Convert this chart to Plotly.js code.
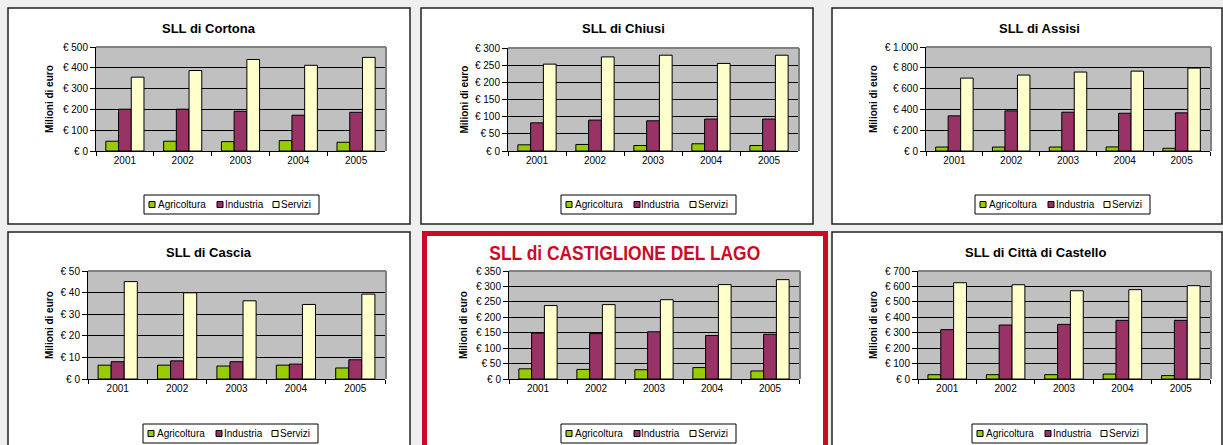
<!DOCTYPE html>
<html><head><meta charset="utf-8">
<script src="https://cdn.plot.ly/plotly-3.0.1.min.js"></script>
<style>html,body{margin:0;padding:0;background:#eeefee;} #chart{width:1223px;height:445px;}</style>
</head><body><div id="chart"></div>
<script>
// ---------- DATA ----------
const years = ['2001', '2002', '2003', '2004', '2005'];
const seriesNames = ['Agricoltura', 'Industria', 'Servizi'];
const panelTitles = ['SLL di Cortona', 'SLL di Chiusi', 'SLL di Assisi', 'SLL di Cascia', 'SLL di CASTIGLIONE DEL LAGO', 'SLL di Città di Castello'];
const yAxisTitle = 'Milioni di euro';

const cortonaAgricoltura = [47, 47, 45, 50, 42];
const cortonaIndustria   = [201, 201, 191, 172, 186];
const cortonaServizi     = [355, 387, 440, 412, 450];

const chiusiAgricoltura = [18, 19, 16, 21, 16];
const chiusiIndustria   = [82, 90, 88, 93, 93];
const chiusiServizi     = [253, 274, 279, 255, 279];

const assisiAgricoltura = [38, 38, 38, 39, 26];
const assisiIndustria   = [338, 386, 373, 363, 367];
const assisiServizi     = [701, 730, 759, 768, 797];

const casciaAgricoltura = [6.4, 6.4, 6.0, 6.4, 5.1];
const casciaIndustria   = [8.0, 8.4, 8.0, 6.9, 8.9];
const casciaServizi     = [45.1, 39.9, 36.2, 34.5, 39.3];

const castiglioneAgricoltura = [33, 31, 30, 37, 26];
const castiglioneIndustria   = [149, 147, 153, 141, 145];
const castiglioneServizi     = [238, 241, 257, 306, 322];

const cittaAgricoltura = [28, 28, 28, 32, 22];
const cittaIndustria   = [320, 350, 354, 380, 380];
const cittaServizi     = [624, 611, 572, 579, 605];

const yAxisMax  = [500, 300, 1000, 50, 350, 700];
const yAxisStep = [100, 50, 200, 10, 50, 100];

// ---------- STYLE / GEOMETRY ----------
const W = 1223, H = 445;
const FONT = 'Liberation Sans, Arial, sans-serif';
const colors = ['#99cc00', '#993366', '#ffffcc'];
const RED = '#cc0a26';
const panelData = [
  [cortonaAgricoltura, cortonaIndustria, cortonaServizi],
  [chiusiAgricoltura, chiusiIndustria, chiusiServizi],
  [assisiAgricoltura, assisiIndustria, assisiServizi],
  [casciaAgricoltura, casciaIndustria, casciaServizi],
  [castiglioneAgricoltura, castiglioneIndustria, castiglioneServizi],
  [cittaAgricoltura, cittaIndustria, cittaServizi]
];
// plot areas in px: [x0, x1, y0(top), y1(bottom)]
const plotBoxes = [[96,385,47,151],[508,798,48,151],[926,1210,47,151],[88,385,271,379],[509,799,271,379],[918,1210,271,379]];
const frames = [[8,410,8,224],[421,813,8,224],[832,1222,8,224],[8,410,232,470],[424.5,825.5,233.5,470],[832,1222,232,470]];
const titlePos = [[209,29],[623,29],[1039,29],[209,252],[625,253],[1035,252]];
const yTitleX = [49,464,873,49,463,873];
const legendLeft = [144,561,975,143,561,972];
const legendTop = [195,195,195,424,424,424];
const swOff = [5, 73, 129];
const txtOff = [13, 79.5, 135.5];

const fx = x => x / W;
const fy = y => 1 - y / H;

const traces = [];
const layout = {
  width: W, height: H,
  margin: {l: 0, r: 0, t: 0, b: 0, pad: 0},
  paper_bgcolor: '#eeefee',
  plot_bgcolor: 'rgba(0,0,0,0)',
  barmode: 'group', bargap: 0.34, bargroupgap: 0,
  separators: ',.',
  showlegend: false,
  font: {family: FONT, size: 10, color: '#000'},
  shapes: [], annotations: []
};

panelData.forEach((series, p) => {
  const sfx = p === 0 ? '' : String(p + 1);
  series.forEach((vals, s) => {
    traces.push({
      type: 'bar', x: years, y: vals, name: seriesNames[s],
      xaxis: 'x' + sfx, yaxis: 'y' + sfx,
      marker: {color: colors[s], line: {color: '#000', width: 1}},
      hovertemplate: '%{x}: € %{y}<extra>' + seriesNames[s] + '</extra>'
    });
  });
  const [x0, x1, y0, y1] = plotBoxes[p];
  layout['xaxis' + sfx] = {
    domain: [fx(x0), fx(x1)], anchor: 'y' + sfx, type: 'category',
    showline: true, linecolor: '#000', linewidth: 1,
    ticks: 'outside', tickson: 'boundaries', ticklen: 4, tickcolor: '#000', tickwidth: 1,
    showgrid: false, zeroline: false, fixedrange: true,
    tickfont: {family: FONT, size: 10, color: '#000'}
  };
  layout['yaxis' + sfx] = {
    domain: [fy(y1), fy(y0)], anchor: 'x' + sfx,
    range: [0, yAxisMax[p]], tick0: 0, dtick: yAxisStep[p],
    tickprefix: '€ ', tickformat: ',d',
    showline: true, linecolor: '#000', linewidth: 1,
    ticks: 'outside', ticklen: 5, tickcolor: '#000', tickwidth: 1,
    showgrid: true, gridcolor: '#000', gridwidth: 1, zeroline: false, fixedrange: true,
    tickfont: {family: FONT, size: 10, color: '#000'}
  };

  // panel frame
  const [fx0, fx1, fy0, fy1] = frames[p];
  const isRed = p === 4;
  layout.shapes.push({type: 'rect', xref: 'paper', yref: 'paper', layer: 'below',
    x0: fx(fx0), x1: fx(fx1), y0: fy(fy1), y1: fy(fy0),
    fillcolor: '#ffffff', line: {color: isRed ? RED : '#222', width: isRed ? 5 : 1.5}});
  // plot background
  layout.shapes.push({type: 'rect', xref: 'paper', yref: 'paper', layer: 'below',
    x0: fx(x0), x1: fx(x1), y0: fy(y1), y1: fy(y0),
    fillcolor: '#c0c0c0', line: {width: 0}});
  // grey plot border (top + right)
  layout.shapes.push({type: 'line', xref: 'paper', yref: 'paper', layer: 'above',
    x0: fx(x0), x1: fx(x1 + 1), y0: fy(y0), y1: fy(y0), line: {color: '#808080', width: 2}});
  layout.shapes.push({type: 'line', xref: 'paper', yref: 'paper', layer: 'above',
    x0: fx(x1 + 1), x1: fx(x1 + 1), y0: fy(y0), y1: fy(y1), line: {color: '#808080', width: 2}});

  // title
  layout.annotations.push({xref: 'paper', yref: 'paper', x: fx(titlePos[p][0]), y: fy(titlePos[p][1]),
    xanchor: 'center', yanchor: 'middle', showarrow: false, text: panelTitles[p],
    font: isRed ? {family: FONT, size: 20, weight: 'bold', color: RED}
                : {family: FONT, size: 13, weight: 'bold', color: '#000'}});
  // y title
  layout.annotations.push({xref: 'paper', yref: 'paper', x: fx(yTitleX[p]), y: fy((y0 + y1) / 2),
    xanchor: 'center', yanchor: 'middle', showarrow: false, text: yAxisTitle, textangle: -90,
    font: {family: FONT, size: 10, weight: 'bold', color: '#000'}});

  // legend box
  const L = legendLeft[p], T = legendTop[p];
  layout.shapes.push({type: 'rect', xref: 'paper', yref: 'paper', layer: 'above',
    x0: fx(L), x1: fx(L + 175), y0: fy(T + 19), y1: fy(T), fillcolor: '#ffffff', line: {color: '#000', width: 1}});
  const cy = T + 9.5;
  seriesNames.forEach((nm, s) => {
    layout.shapes.push({type: 'rect', xref: 'paper', yref: 'paper', layer: 'above',
      x0: fx(L + swOff[s]), x1: fx(L + swOff[s] + 6), y0: fy(cy + 3), y1: fy(cy - 3),
      fillcolor: colors[s], line: {color: '#000', width: 1}});
    layout.annotations.push({xref: 'paper', yref: 'paper', x: fx(L + txtOff[s]), y: fy(cy),
      xanchor: 'left', yanchor: 'middle', showarrow: false, text: nm, borderpad: 0,
      font: {family: FONT, size: 10, color: '#000'}});
  });
});

Plotly.newPlot('chart', traces, layout, {displayModeBar: false, staticPlot: true}).then(() => {
  // condense the highlighted title, as in the original (Arial Narrow look)
  document.querySelectorAll('.annotation-text').forEach(t => {
    if (t.textContent === panelTitles[4]) {
      t.style.transformBox = 'fill-box';
      t.style.transformOrigin = 'center';
      t.style.transform = 'scaleX(0.87)';
    }
  });
});
</script>
</body></html>
